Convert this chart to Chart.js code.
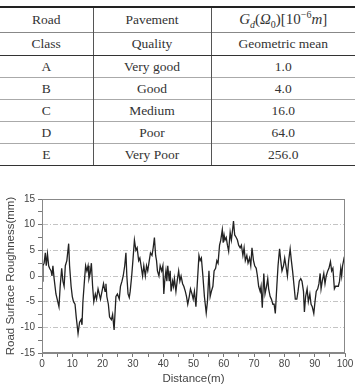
<!DOCTYPE html>
<html>
<head>
<meta charset="utf-8">
<script src="https://cdn.jsdelivr.net/npm/chart.js@4.4.1/dist/chart.umd.min.js"></script>
<style>
  body { margin: 0; width: 355px; height: 386px; background: #fff; position: relative; overflow: hidden; }
  .tbl { position: absolute; left: 0; top: 6px; width: 355px; border-collapse: collapse; table-layout: fixed;
         font-family: "Liberation Serif", "DejaVu Serif", serif; font-size: 13.5px; color: #333; }
  .tbl td { text-align: center; padding: 0; line-height: 14px; }
  .tbl td + td { border-left: 1px solid #555; }
  .tbl tr.first td { border-top: 2px solid #222; height: 24px; }
  .tbl tr.first td.formula { font-size: 15px; }
  .tbl tr.second td { border-top: 1px solid #888; border-bottom: 1px solid #333; height: 22px; }
  .tbl tr.row td { border-top: 1px solid #aaa; height: 21px; }
  .tbl tr.last td { border-bottom: 1px solid #333; }
  .chart-box { position: absolute; left: 0; top: 180px; width: 355px; height: 206px; }
</style>
</head>
<body>
<table class="tbl">
  <colgroup><col style="width:93px"><col style="width:118px"><col style="width:144px"></colgroup>
  <tbody class="tbody"></tbody>
</table>
<div class="chart-box"><canvas class="chart" width="355" height="206"></canvas></div>
<script>
// table contents
const headerTop = ["Road", "Pavement", "<i>G</i><sub style='font-size:10px'><i>d</i></sub>(<i>&Omega;</i><sub style='font-size:10px'>0</sub>)[10<sup style='font-size:10px'>&minus;6</sup><i>m</i>]"];
const headerBottom = ["Class", "Quality", "Geometric mean"];
const roadClass = ["A", "B", "C", "D", "E"];
const pavementQuality = ["Very good", "Good", "Medium", "Poor", "Very Poor"];
const geometricMean = ["1.0", "4.0", "16.0", "64.0", "256.0"];

// road profile
const distance = [
  0, 0.3, 0.7, 1.1, 1.4, 1.8, 2.2, 2.5, 3, 3.3,
  3.6, 4, 4.6, 5.2, 5.6, 6, 6.5, 6.9, 7.3, 7.7,
  8.2, 8.8, 9.1, 9.6, 10, 10.4, 10.9, 11.3, 11.9, 12.4,
  12.9, 13.2, 13.5, 14, 14.4, 14.8, 15.2, 15.5, 15.9, 16.3,
  16.7, 17.1, 17.6, 18, 18.5, 18.9, 19.3, 19.8, 20.3, 20.8,
  21.1, 21.4, 21.9, 22.3, 22.9, 23.3, 23.8, 24.4, 24.9, 25.5,
  25.9, 26.4, 26.8, 27.3, 27.7, 28, 28.4, 28.8, 29.1, 29.6,
  30, 30.5, 31, 31.4, 31.9, 32.3, 32.7, 33.2, 33.6, 34.1,
  34.5, 34.9, 35.4, 35.8, 36.3, 36.7, 37.1, 37.5, 37.8, 38.1,
  38.6, 39, 39.5, 39.9, 40.2, 40.5, 40.9, 41.2, 41.5, 42,
  42.3, 42.6, 43.1, 43.4, 43.7, 44.2, 44.6, 45.1, 45.5, 45.9,
  46.4, 46.8, 47.3, 47.7, 48.1, 48.6, 49, 49.5, 49.9, 50.3,
  50.8, 51.2, 51.8, 52.2, 52.6, 53.1, 53.6, 54.2, 54.6, 55.1,
  55.5, 55.9, 56.4, 56.8, 57.3, 57.7, 58.1, 58.6, 59, 59.5,
  59.8, 60.1, 60.4, 60.8, 61.2, 61.6, 62.1, 62.5, 62.9, 63.2,
  63.6, 64.1, 64.5, 64.9, 65.4, 65.8, 66.3, 66.7, 67.1, 67.6,
  68, 68.5, 68.9, 69.3, 69.8, 70.2, 70.7, 71.1, 71.5, 72,
  72.3, 72.7, 73.2, 73.6, 74.1, 74.5, 74.8, 75.3, 75.7, 76.2,
  76.6, 77, 77.5, 77.9, 78.4, 78.8, 79.2, 79.7, 80.1, 80.5,
  81, 81.4, 81.9, 82.3, 82.7, 83.2, 83.6, 84.1, 84.5, 84.9,
  85.4, 85.8, 86.3, 86.6, 87, 87.5, 87.9, 88.4, 88.8, 89.2,
  89.7, 90.1, 90.5, 91, 91.4, 91.8, 92.1, 92.5, 93, 93.4,
  93.8, 94.3, 94.7, 95.2, 95.6, 96, 96.5, 96.9, 97.4, 97.8,
  98.2, 98.6, 98.9, 99.2, 99.7, 100
];
const roughness = [
  -1, 2, 2.5, 4.5, 2, 4.3, 2, 1.5, 1, 0,
  2, -0.5, -3.5, -5, -6, -2, 1.5, -1, -2, 2,
  3, 6.3, 2, -2, -4, -5, -5.5, -8, -11.2, -9,
  -8.5, -9.5, -5, -1, 2, 1, 2, -0.5, 0.5, 2.5,
  -2, -5, -3.5, -4.5, -2.5, -3.5, -4.5, -3, -1.5, -3,
  -1.5, -4, -5.5, -8, -8.5, -7.5, -10.5, -4, -3.5, -4.5,
  -2, -1, 0, 2, 4.5, 0, -3.5, -4.2, -3, 0,
  3, 7, 5, 5.5, 3, 3.5, 2, 0, 2, 0,
  2, 1, 3, 4.5, 4, 5.5, 7.5, 4, 3, 1,
  0, 2, 1, 2, -3.5, -1, 1, -1, 2, -1,
  1, -3, -1, -2, -0.5, -3, -1, 1, -1, 0,
  -1.5, -2, -3, -4, -5.5, -4, -2.5, -3.5, -4.5, -3,
  -6, -2, 4, 3, 3.5, 0, -4, -7.2, -5, 1,
  -4, -3, -2, 1, 1.5, 3, 2.5, 6, 7, 9,
  6.5, 8, 7, 7.5, 6, 4.8, 8.5, 7, 9, 10.7,
  8, 7.5, 7, 6, 5.5, 6, 4, 5.5, 3, 4,
  2.5, 3.5, 2, 5.5, 3, 2, 1.5, 0, -2, -3,
  -2, -6.2, 0.5, -3.5, -2, -0.5, -2.5, -4, -4.5, -5.5,
  -5.5, -7.3, -2, 2, 5.3, 3, 1, 2, 3.5, 2,
  0, 3, 5.3, 3, 1, -2, -4.5, -4.5, -3, -1,
  -0.5, -1, -3, -7, -4, -2.5, -5, -3.5, -5.5, -6,
  -7.3, -5, -3, -2.5, -1.5, 0.5, -2.5, -1, 0.5, -1.5,
  0, 1, 1.5, 2.8, 1, 1.5, -2.5, -2, -2, -2,
  -1, 1.5, 0, 2, 3.5, 3.3
];

// builds the table rows
var rows = '<tr class="first">' + headerTop.map((t, i) => '<td' + (i == 2 ? ' class="formula"' : '') + '>' + t + '</td>').join('') + '</tr>';
rows += '<tr class="second">' + headerBottom.map(t => '<td>' + t + '</td>').join('') + '</tr>';
for (let i = 0; i < roadClass.length; i++) {
  let cls = i == roadClass.length - 1 ? 'row last' : 'row';
  rows += '<tr class="' + cls + '"><td>' + roadClass[i] + '</td><td>' + pavementQuality[i] + '</td><td>' + geometricMean[i] + '</td></tr>';
}
document.querySelector(".tbody").innerHTML = rows;

// frame around the plot area
const frame = {
  id: 'frame',
  afterDraw(chart) {
    const a = chart.chartArea, ctx = chart.ctx;
    ctx.save();
    ctx.strokeStyle = '#888';
    ctx.lineWidth = 1;
    ctx.strokeRect(a.left + 0.5, a.top + 0.5, a.right - a.left - 1, a.bottom - a.top - 1);
    ctx.restore();
  }
};

var points = distance.map((d, i) => ({ x: d, y: roughness[i] }));

var config = {
  type: 'line',
  data: {
    datasets: [{
      data: points,
      borderColor: '#222',
      borderWidth: 1.3,
      pointRadius: 0,
      tension: 0
    }]
  },
  options: {
    responsive: false,
    animation: false,
    layout: { padding: { top: 19, right: 10, left: 0, bottom: 0 } },
    plugins: { legend: { display: false }, tooltip: { enabled: false } },
    scales: {
      x: {
        type: 'linear',
        min: 0,
        max: 100,
        afterFit: s => { s.height = 33; },
        ticks: {
          stepSize: 5,
          autoSkip: false,
          maxRotation: 0,
          padding: 1,
          color: '#444',
          font: { family: 'Liberation Sans', size: 10 },
          callback: v => v % 10 == 0 ? v : ''
        },
        grid: { drawOnChartArea: false, tickLength: 4, tickColor: '#777' },
        border: { color: '#888' },
        title: {
          display: true,
          text: 'Distance(m)',
          color: '#444',
          padding: { top: 0, bottom: 0 },
          font: { family: 'Liberation Sans', size: 11.5 }
        }
      },
      y: {
        min: -15,
        max: 15,
        afterFit: s => { s.width = 42; },
        ticks: {
          stepSize: 2.5,
          autoSkip: false,
          padding: 3,
          color: '#444',
          font: { family: 'Liberation Sans', size: 10 },
          callback: v => v % 5 == 0 ? v : ''
        },
        grid: {
          tickLength: 4,
          tickColor: '#777',
          color: ctx => (ctx.tick && ctx.tick.value % 5 == 0 && Math.abs(ctx.tick.value) < 15) ? '#c4c4c4' : 'rgba(0,0,0,0)'
        },
        border: { color: '#888', dash: [5, 2, 1, 2] },
        title: {
          display: true,
          text: 'Road Surface Roughness(mm)',
          color: '#444',
          padding: { top: 4, bottom: 0 },
          font: { family: 'Liberation Sans', size: 11.5 }
        }
      }
    }
  },
  plugins: [frame]
};

var myChart = new Chart(document.querySelector(".chart"), config);
</script>
</body>
</html>
